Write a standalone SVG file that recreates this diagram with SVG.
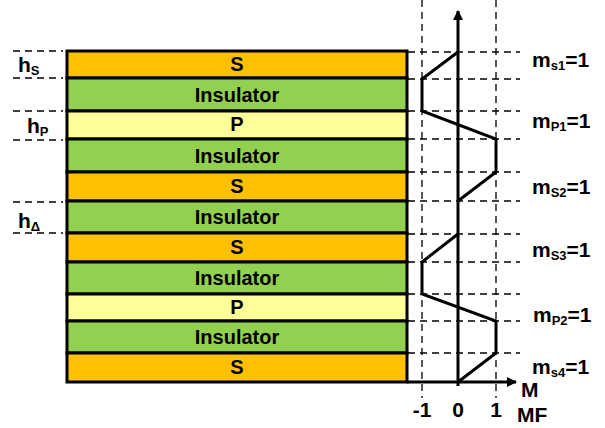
<svg xmlns="http://www.w3.org/2000/svg" width="605" height="428" viewBox="0 0 605 428">
<defs>
<style>
.lay{stroke:#000;stroke-width:3}
.s{fill:#FFC000}.i{fill:#92D050}.p{fill:#FFFF99}
.t{font-family:"Liberation Sans",Arial,sans-serif;font-weight:bold;font-size:20px;fill:#000}
.r{font-size:21px}
.c{text-anchor:middle}
.d{stroke:#000;stroke-width:1.3;stroke-dasharray:7 5;fill:none}
.ax{stroke:#000;stroke-width:3;fill:none}
</style>
<marker id="ah" viewBox="0 0 10 10" refX="9" refY="5" markerWidth="3.4" markerHeight="3.4" orient="auto" markerUnits="strokeWidth">
<path d="M0,0 L10,5 L0,10 z" fill="#000"/>
</marker>
</defs>
<rect width="605" height="428" fill="#fff"/>
<g id="dashes">
<path class="d" d="M13,51H63M13,78H63M13,111H63M13,140H63M13,202H63M13,233H63"/>
<path class="d" d="M408,52H520M408,79H520M408,111H520M408,139H520M408,172H520M408,201H520M408,234H520M408,262H520M408,294H520M408,321H520M408,353H520"/>
<path class="d" d="M422,0V398M496,0V398"/>
</g>
<g id="layer-s1"><rect class="lay s" x="67" y="51" width="340" height="27"/><text class="t c" x="237" y="71">S</text></g>
<g id="layer-ins1"><rect class="lay i" x="67" y="78" width="340" height="33"/><text class="t c" x="237" y="102">Insulator</text></g>
<g id="layer-p1"><rect class="lay p" x="67" y="111" width="340" height="28"/><text class="t c" x="237" y="131">P</text></g>
<g id="layer-ins2"><rect class="lay i" x="67" y="139" width="340" height="33"/><text class="t c" x="237" y="163">Insulator</text></g>
<g id="layer-s2"><rect class="lay s" x="67" y="172" width="340" height="29"/><text class="t c" x="237" y="193">S</text></g>
<g id="layer-ins3"><rect class="lay i" x="67" y="201" width="340" height="32"/><text class="t c" x="237" y="224">Insulator</text></g>
<g id="layer-s3"><rect class="lay s" x="67" y="233" width="340" height="29"/><text class="t c" x="237" y="254">S</text></g>
<g id="layer-ins4"><rect class="lay i" x="67" y="262" width="340" height="32"/><text class="t c" x="237" y="285">Insulator</text></g>
<g id="layer-p2"><rect class="lay p" x="67" y="294" width="340" height="27"/><text class="t c" x="237" y="314">P</text></g>
<g id="layer-ins5"><rect class="lay i" x="67" y="321" width="340" height="32"/><text class="t c" x="237" y="344">Insulator</text></g>
<g id="layer-s4"><rect class="lay s" x="67" y="353" width="340" height="29"/><text class="t c" x="237" y="374">S</text></g>
<g id="connectors">
<path class="ax" d="M458,386V11" marker-end="url(#ah)"/>
<path class="ax" d="M407,382H516" marker-end="url(#ah)"/>
<path class="ax" stroke-linejoin="miter" d="M458,52L422,79V111L496,139V172L458,201"/>
<path class="ax" stroke-linejoin="miter" d="M458,234L422,262V294L496,321V353L458,382"/>
</g>
<g id="left-labels">
<text class="t r" x="18" y="72">h<tspan font-size="13" dy="3">S</tspan></text>
<text class="t r" x="27" y="133">h<tspan font-size="13" dy="3">P</tspan></text>
<text class="t r" x="18" y="228">h<tspan font-size="13" dy="3">Δ</tspan></text>
</g>
<g id="right-labels">
<text class="t r" x="532" y="67">m<tspan font-size="13" dy="3">s1</tspan><tspan dy="-3">=1</tspan></text>
<text class="t r" x="532" y="128">m<tspan font-size="13" dy="3">P1</tspan><tspan dy="-3">=1</tspan></text>
<text class="t r" x="532" y="194">m<tspan font-size="13" dy="3">S2</tspan><tspan dy="-3">=1</tspan></text>
<text class="t r" x="532" y="257">m<tspan font-size="13" dy="3">S3</tspan><tspan dy="-3">=1</tspan></text>
<text class="t r" x="533" y="322">m<tspan font-size="13" dy="3">P2</tspan><tspan dy="-3">=1</tspan></text>
<text class="t r" x="532" y="374">m<tspan font-size="13" dy="3">s4</tspan><tspan dy="-3">=1</tspan></text>
</g>
<g id="axis-labels">
<text class="t r c" x="422" y="417">-1</text>
<text class="t r c" x="458" y="417">0</text>
<text class="t r c" x="496" y="417">1</text>
<text class="t r" x="521" y="397">M</text>
<text class="t r" x="517" y="422">MF</text>
</g>
</svg>
